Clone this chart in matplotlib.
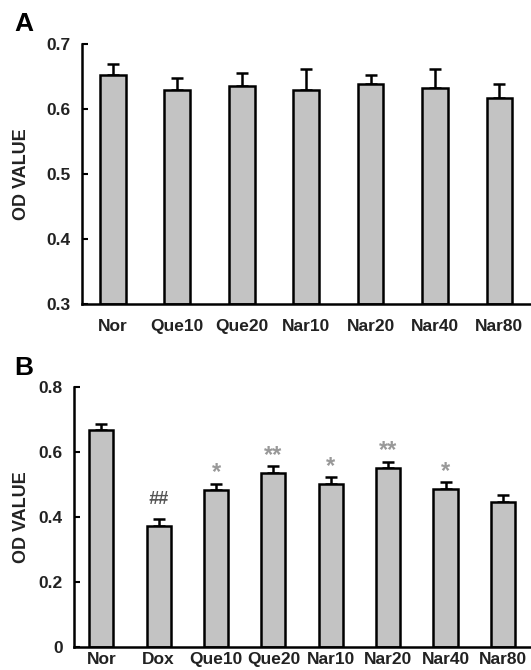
import numpy as np
import matplotlib
matplotlib.use("Agg")
import matplotlib.pyplot as plt

plt.rcParams["font.family"] = ["Liberation Sans", "DejaVu Sans"]
plt.rcParams["font.weight"] = "bold"

# Panel A data
groups_a = ["Nor", "Que10", "Que20", "Nar10", "Nar20", "Nar40", "Nar80"]
means_a = [0.653, 0.630, 0.636, 0.630, 0.639, 0.633, 0.617]
err_a = [0.017, 0.018, 0.019, 0.032, 0.013, 0.029, 0.022]

# Panel B data
groups_b = ["Nor", "Dox", "Que10", "Que20", "Nar10", "Nar20", "Nar40", "Nar80"]
means_b = [0.667, 0.372, 0.482, 0.536, 0.500, 0.549, 0.486, 0.446]
err_b = [0.019, 0.021, 0.020, 0.019, 0.021, 0.020, 0.020, 0.021]
marks_b = ["", "##", "*", "**", "*", "**", "*", ""]

W, H = 531, 670
fig = plt.figure(figsize=(W / 100, H / 100), dpi=100)

bar_color = "#c3c3c3"
text_color = "#222222"


def style_axes(ax):
    for side in ["top", "right"]:
        ax.spines[side].set_visible(False)
    ax.spines["left"].set_linewidth(1.8)
    ax.spines["bottom"].set_linewidth(1.8)
    ax.tick_params(axis="y", direction="in", length=4, width=1.5, pad=8,
                   labelsize=12.5, labelcolor=text_color)
    ax.tick_params(axis="x", length=0, labelsize=12.5, labelcolor=text_color)
    for lab in ax.get_xticklabels() + ax.get_yticklabels():
        lab.set_fontweight("bold")


# Panel A
ax1 = fig.add_axes([82 / W, 1 - 304 / H, 1 - 82 / W, 260 / H])
x_a = np.arange(len(groups_a))
ax1.bar(x_a, np.array(means_a) - 0.3, bottom=0.3, width=0.40, color=bar_color,
        edgecolor="black", linewidth=1.8, zorder=2)
ax1.errorbar(x_a, means_a, yerr=[np.zeros(len(err_a)), err_a], fmt="none",
             ecolor="black", elinewidth=1.8, capsize=4, capthick=1.8, zorder=1)
ax1.set_ylim(0.3, 0.7)
ax1.set_xlim(-0.48, 6.49)
ax1.set_yticks([0.3, 0.4, 0.5, 0.6, 0.7])
ax1.set_yticklabels(["0.3", "0.4", "0.5", "0.6", "0.7"])
ax1.set_xticks(x_a)
ax1.set_xticklabels(groups_a)
style_axes(ax1)
ax1.tick_params(axis="x", pad=11)

# Panel B
ax2 = fig.add_axes([74 / W, 1 - 646.7 / H, 1 - 74 / W, 260 / H])
x_b = np.arange(len(groups_b))
ax2.bar(x_b, means_b, width=0.42, color=bar_color, edgecolor="black",
        linewidth=1.8, zorder=2)
ax2.errorbar(x_b, means_b, yerr=[np.zeros(len(err_b)), err_b], fmt="none",
             ecolor="black", elinewidth=1.8, capsize=4, capthick=1.8, zorder=1)
for xi, m, e, s in zip(x_b, means_b, err_b, marks_b):
    if not s:
        continue
    if s == "##":
        ax2.annotate(s, (xi, m + e), xytext=(0, 14), textcoords="offset points",
                     ha="center", va="center", fontsize=13, color="#555555",
                     fontstyle="italic", fontweight="bold")
    else:
        ax2.annotate(s, (xi, m + e), xytext=(0, 8), textcoords="offset points",
                     ha="center", va="center", fontsize=17, color="#999999",
                     fontweight="bold")
ax2.set_ylim(0, 0.8)
ax2.set_xlim(-0.476, 7.49)
ax2.set_yticks([0, 0.2, 0.4, 0.6, 0.8])
ax2.set_yticklabels(["0", "0.2", "0.4", "0.6", "0.8"])
ax2.set_xticks(x_b)
ax2.set_xticklabels(groups_b)
style_axes(ax2)
ax2.tick_params(axis="x", pad=4)

# axis labels and panel letters
fig.text(22 / W, 1 - 174 / H, "OD VALUE", rotation=90, ha="center", va="center",
         fontsize=13, fontweight="bold", color=text_color)
fig.text(22 / W, 1 - 517 / H, "OD VALUE", rotation=90, ha="center", va="center",
         fontsize=13, fontweight="bold", color=text_color)
fig.text(24 / W, 1 - 24 / H, "A", ha="center", va="center", fontsize=19,
         fontweight="bold", color="black")
fig.text(24 / W, 1 - 368 / H, "B", ha="center", va="center", fontsize=19,
         fontweight="bold", color="black")

fig.savefig("out.png", dpi=100)
